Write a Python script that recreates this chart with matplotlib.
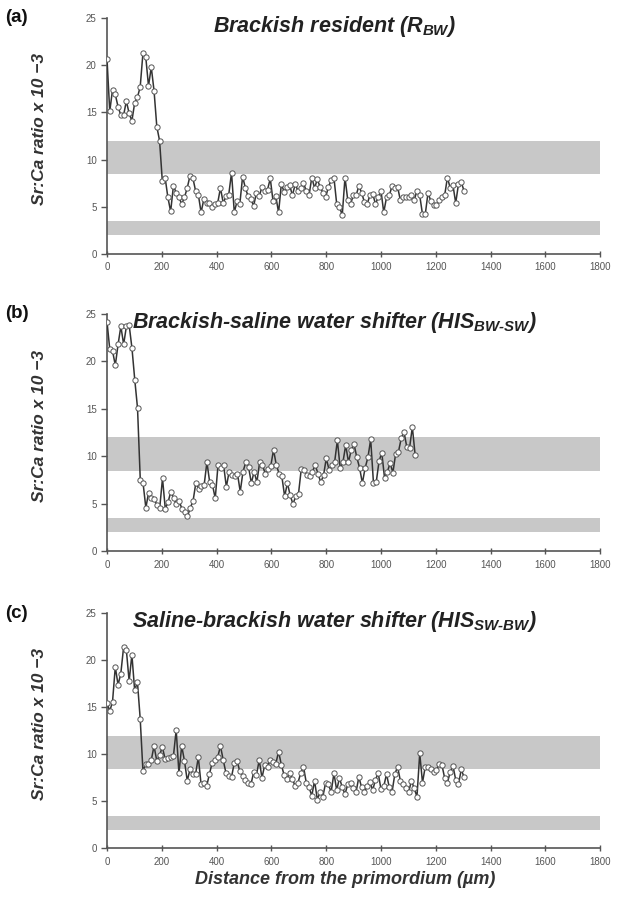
import matplotlib
matplotlib.use('Agg')
import matplotlib.pyplot as plt
import numpy as np

plt.rcParams['font.family'] = ['Liberation Sans', 'DejaVu Sans']
plt.rcParams['mathtext.fontset'] = 'custom'
plt.rcParams['mathtext.it'] = 'Liberation Sans:bold:italic'
plt.rcParams['mathtext.rm'] = 'Liberation Sans:bold:italic'

# sampling step along the transect (um) for each otolith
step_a = 10.1
step_b = 10.13
step_c = 10.1

# Sr:Ca x 10^-3
sr_a = [20.7, 15.1, 17.4, 16.9, 15.6, 14.7, 14.7, 16.2, 14.9, 14.1, 16.0, 16.6, 17.7, 21.3, 20.9, 17.8, 19.8, 17.3, 13.5,
        12.0, 7.7, 8.1, 6.0, 4.5, 7.2, 6.5, 6.0, 5.3, 6.0, 7.0, 8.3, 8.1, 6.7, 6.3, 4.4, 5.8, 5.4, 5.4, 5.0,
        5.3, 5.4, 7.0, 5.4, 6.1, 6.3, 8.6, 4.4, 5.6, 5.3, 8.2, 7.0, 6.1, 5.8, 5.1, 6.5, 6.1, 7.1, 6.7, 6.8,
        8.0, 5.6, 6.1, 4.4, 7.4, 6.6, 7.1, 7.3, 6.2, 7.4, 6.7, 7.0, 7.5, 6.7, 6.2, 8.1, 7.0,
        7.9, 7.1, 6.5, 6.0, 7.1, 7.8, 8.1, 5.3, 5.0, 4.1, 8.1, 5.7, 5.3, 6.2, 6.2, 7.2, 6.5, 5.5, 5.3, 6.2,
        6.4, 5.3, 6.0, 6.7, 4.4, 6.0, 6.2, 7.2, 7.0, 7.1, 5.7, 6.0, 6.0, 6.0, 6.2, 5.7, 6.7, 6.2, 4.2, 4.2,
        6.5, 5.6, 5.2, 5.2, 5.7, 6.0, 6.2, 8.1, 7.0, 7.3, 5.4, 7.4, 7.6, 6.7]

sr_b = [24.2, 21.3, 21.1, 19.6, 21.8, 23.7, 21.8, 23.7, 23.8, 21.4, 18.1, 15.1,
        7.5, 7.2, 4.6, 6.2, 5.6, 5.5, 4.9, 4.6, 7.7, 4.5, 5.2, 6.3, 5.6, 5.0, 5.3, 4.5, 4.2, 3.7, 4.6, 5.3,
        7.2, 6.6, 6.9, 7.0, 9.4, 7.3, 7.0, 5.6, 9.1, 8.8, 9.1, 6.8, 8.4, 8.0, 7.9, 8.2, 6.3, 8.4, 9.4, 8.9,
        7.2, 8.4, 7.3, 9.4, 9.1, 8.2, 8.7, 9.0, 10.7, 9.1, 8.2, 7.9, 5.8, 7.2, 5.9, 5.0, 5.8, 6.1, 8.7, 8.6,
        8.0, 7.9, 8.4,
        9.1, 8.2, 7.3, 8.0, 9.8, 8.6, 9.1, 9.4, 11.7, 8.8, 9.4, 11.2, 9.4, 10.7, 11.3, 9.9, 8.8, 7.2, 8.8,
        9.9, 11.8, 7.2, 7.3, 9.5, 10.4, 7.7, 8.4, 9.3, 8.3, 10.3, 10.5, 11.9, 12.6, 11.0, 10.9, 13.1, 10.2]

sr_c = [15.5, 14.6, 15.6, 19.3, 17.4, 18.6, 21.4, 21.1, 17.8, 20.6, 16.8, 17.7, 13.8,
        8.2, 9.0, 9.0, 9.4, 10.9, 9.3, 9.9, 10.8, 9.5, 9.6, 9.7, 9.8, 12.6, 8.0, 10.9, 9.3, 7.2, 8.4,
        7.9, 7.9, 9.7, 6.8, 7.0, 6.6, 7.9, 9.1, 9.4, 9.7, 10.9, 9.4, 8.0, 7.7, 7.6, 9.1, 9.3, 8.2,
        7.7, 7.3, 7.0, 6.8, 8.1, 7.8, 9.4, 7.5, 8.9, 8.7, 9.4, 9.2, 9.0, 10.3, 8.9, 7.8, 7.4, 8.0,
        7.4, 6.6, 7.0, 8.0, 8.7, 7.0, 6.5, 5.6, 7.2, 5.2, 6.0, 5.5, 7.0, 6.8, 6.0, 8.0, 6.2, 7.5, 6.5,
        5.8, 6.8, 7.0, 6.4, 6.0, 7.6, 6.5, 6.0, 6.6, 7.1, 6.2, 7.3, 8.0, 6.3, 6.6, 7.9, 6.5, 6.0, 7.9,
        8.7, 7.2, 6.9, 6.4, 6.0, 7.2, 6.4, 5.5, 10.1, 7.0, 8.7, 8.7, 8.4, 8.1, 8.3, 9.0, 8.9, 7.5, 7.0,
        8.1, 8.8, 7.3, 6.8, 8.4, 7.6]

titles = [r'Brackish resident ($R_{BW}$)',
          r'Brackish-saline water shifter ($HIS_{BW\text{-}SW}$)',
          r'Saline-brackish water shifter ($HIS_{SW\text{-}BW}$)']
panel_labels = ['(a)', '(b)', '(c)']

# reference Sr:Ca ranges (shaded)
band_hi = (8.5, 12.0)
band_lo = (2.0, 3.5)

x_ticks = list(range(0, 2000, 200))
y_ticks = [0, 5, 10, 15, 20, 25]

fig = plt.figure(figsize=(6.22, 9.09), dpi=100)
boxes = [[0.172, 0.7206, 0.793, 0.2596],
         [0.172, 0.3933, 0.793, 0.2613],
         [0.172, 0.0666, 0.793, 0.2587]]
series = [(sr_a, step_a), (sr_b, step_b), (sr_c, step_c)]

for i, (vals, stp) in enumerate(series):
    ax = fig.add_axes(boxes[i])
    xs = np.arange(len(vals)) * stp
    ax.axhspan(band_hi[0], band_hi[1], color='#c8c8c8', lw=0, zorder=0)
    ax.axhspan(band_lo[0], band_lo[1], color='#c8c8c8', lw=0, zorder=0)
    ax.plot(xs, vals, '-', color='#333333', lw=1.1, marker='o', ms=3.8,
            mfc='white', mec='#555555', mew=0.7, zorder=3)
    ax.set_xlim(0, 1800)
    ax.set_ylim(0, 25)
    ax.set_xticks(x_ticks)
    ax.set_yticks(y_ticks)
    for s in ['top', 'right']:
        ax.spines[s].set_visible(False)
    for s in ['left', 'bottom']:
        ax.spines[s].set_color('#555555')
        ax.spines[s].set_linewidth(1.2)
    ax.tick_params(axis='x', direction='inout', length=5, width=1, colors='#555555', labelsize=7, labelcolor='#555555')
    ax.tick_params(axis='y', direction='out', length=4, width=1, colors='#555555', labelsize=7, labelcolor='#555555')
    ax.set_ylabel('Sr:Ca ratio x 10 \u22123', fontsize=12.5, fontweight='bold', fontstyle='italic',
                  color='#333333')
    ax.yaxis.set_label_coords(-0.122, 0.53)
    ax.text(0.462, 0.965, titles[i], transform=ax.transAxes, ha='center', va='center',
            fontsize=15.5, fontweight='bold', fontstyle='italic', color='#222222')
    fig.text(0.008, boxes[i][1] + boxes[i][3], panel_labels[i], fontsize=13.5,
             fontweight='bold', color='#111111', va='center')

fig.text(0.555, 0.032, 'Distance from the primordium (\u00b5m)', ha='center', va='center',
         fontsize=13, fontweight='bold', fontstyle='italic', color='#333333')

fig.savefig('out.png', dpi=100)
